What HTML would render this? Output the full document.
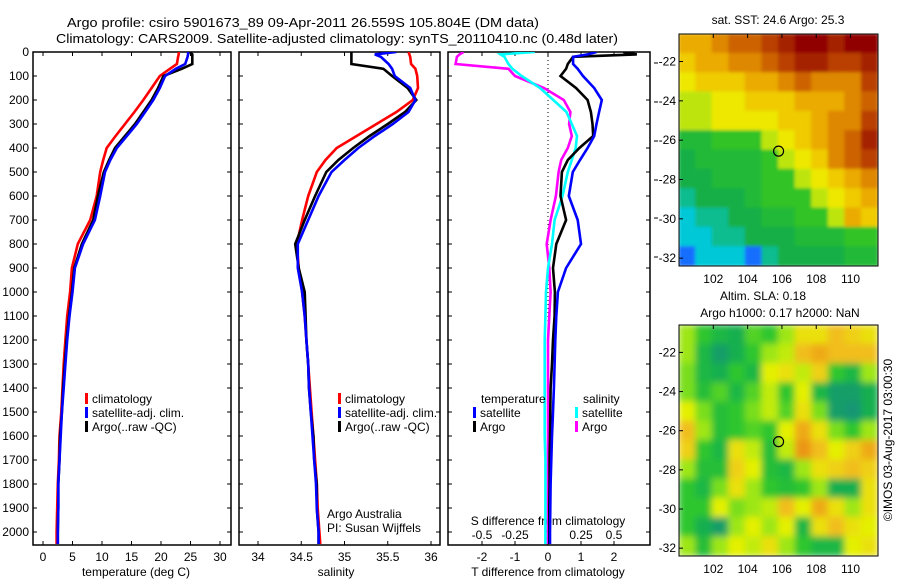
<!DOCTYPE html>
<html><head><meta charset="utf-8">
<style>
html,body{margin:0;padding:0;background:#fff;}
svg{display:block;font-family:"Liberation Sans",Arial,sans-serif;}
text{font-size:12px;fill:#000;}
</style></head>
<body>
<svg id="fig" width="900" height="580" viewBox="0 0 900 580" xmlns="http://www.w3.org/2000/svg">
<text x="67" y="27" textLength="472" lengthAdjust="spacingAndGlyphs" style="font-size:13px">Argo profile: csiro 5901673_89 09-Apr-2011 26.559S 105.804E (DM data)</text>
<text x="56" y="43" textLength="562" lengthAdjust="spacingAndGlyphs" style="font-size:13px">Climatology: CARS2009. Satellite-adjusted climatology: synTS_20110410.nc (0.48d later)</text>
<g id="g"></g>
</svg>
<script>
const depths=[0,10,20,50,70,100,150,200,250,300,350,400,450,500,600,700,800,900,1000,1100,1200,1300,1400,1500,1600,1700,1800,1900,2000,2050];
const tempClim=[23.0,23.0,22.9,22.7,21.5,19.8,18.4,17.0,15.5,13.9,12.3,10.8,10.2,9.7,9.1,8.0,5.9,4.9,4.6,4.1,3.8,3.5,3.3,3.1,2.8,2.7,2.5,2.4,2.3,2.3];
const tempSat=[24.6,24.6,24.5,24.1,22.5,20.7,19.8,18.7,17.3,15.9,14.2,12.5,11.4,10.5,9.7,8.8,6.8,5.4,5.0,4.5,4.1,3.8,3.5,3.2,3.0,2.8,2.6,2.6,2.5,2.5];
const tempArgo=[24.9,25.3,25.3,25.3,23.5,20.4,19.5,18.4,17.0,15.6,13.9,12.2,11.2,10.3,9.3,8.5,6.6,5.3,4.9,4.4,4.0,3.7,3.4,3.2,2.9,2.8,2.6,2.6,2.5,2.5];
const salClim=[35.74,35.75,35.76,35.77,35.82,35.84,35.85,35.79,35.60,35.37,35.14,34.91,34.78,34.68,34.58,34.51,34.45,34.47,34.51,34.54,34.56,34.58,34.60,34.62,34.64,34.66,34.68,34.69,34.71,34.72];
const salSat=[35.60,35.35,35.42,35.51,35.55,35.58,35.76,35.82,35.74,35.56,35.35,35.16,35.00,34.85,34.70,34.58,34.46,34.46,34.51,34.54,34.56,34.58,34.59,34.61,34.63,34.65,34.67,34.68,34.70,34.70];
const salArgo=[35.08,35.08,35.08,35.08,35.45,35.55,35.73,35.83,35.70,35.50,35.29,35.10,34.93,34.79,34.66,34.54,34.43,34.47,34.54,34.55,34.56,34.58,34.59,34.61,34.64,34.65,34.68,34.68,34.70,34.70];
const tDiffSat=[1.47,1.2,0.76,0.76,0.9,1.06,1.4,1.63,1.55,1.47,1.4,1.2,0.97,0.75,0.63,0.9,1.0,0.55,0.3,0.25,0.22,0.2,0.18,0.15,0.12,0.1,0.08,0.07,0.06,0.06];
const tDiffArgo=[2.28,2.69,0.76,0.6,0.55,0.38,0.85,1.2,1.3,1.35,1.37,0.95,0.6,0.42,0.38,0.55,0.25,0.15,0.21,0.2,0.15,0.12,0.08,0.07,0.06,0.05,0.05,0.04,0.04,0.04];
const sDiffSat=[-0.1,-0.36,-0.33,-0.3,-0.27,-0.2,-0.06,0.04,0.14,0.18,0.22,0.21,0.18,0.15,0.11,0.05,0.03,0.0,-0.015,-0.02,-0.025,-0.025,-0.025,-0.025,-0.025,-0.02,-0.02,-0.02,-0.02,-0.02];
const sDiffArgo=[-0.64,-0.67,-0.69,-0.70,-0.3,-0.25,-0.03,0.12,0.17,0.16,0.18,0.15,0.10,0.08,0.06,0.02,-0.01,0.01,0.02,0.01,0,0,0,0,0,0,0,0,0,0];
const depthTicks=[0,100,200,300,400,500,600,700,800,900,1000,1100,1200,1300,1400,1500,1600,1700,1800,1900,2000];
const tempTicks=[0,5,10,15,20,25,30];
const salTicks=[34,34.5,35,35.5,36];
const tdTicks=[-2,-1,0,1,2];
const sdTickLabels=["-0.5","-0.25","0","0.25","0.5"];
const sdTicks=[-0.5,-0.25,0,0.25,0.5];
const sstGrid=[
[24.5,24.5,25,25.5,25.5,26,26.5,27,27,26.5,27,27],
[24,24.5,24.5,25,25,25.5,26,26.5,26.5,26,26,26.5],
[23.5,24,24,24,24.5,24.5,25,25.5,25,25,25,26],
[23,23,23.5,23.5,24,24,24,24.5,24.5,24.5,25,25.5],
[23,23,23.5,23.5,23.5,23.5,24,24,24.5,25,25,26],
[21.5,21.5,22,22,22,23,23.5,24,24.5,25,25.5,26.5],
[21,21.5,21.5,21.5,21.5,22,23,23.5,24,25,25.5,26],
[21,21,21.5,21.5,21.5,22,22,23,23.5,24,24.5,25],
[20.5,21,21,21,21.5,22,22,22,23,23.5,24,24.5],
[20,20.5,20.5,21,21,21.5,21.5,22,22,23,24.5,24],
[20,20,20.5,20.5,21,21,21,21.5,21.5,21.5,22,22],
[19.5,20,20,20,19.5,20.5,21,21,21,21,21.5,21.5]];
const slaGrid=[
[0.3,0,-0.2,-0.3,0.1,0,0.3,0.6,0.6,0.8,0.7,0.6],
[0.3,-0.2,-0.5,-0.3,0,0.3,0.4,0.8,0.9,0.8,0.8,0.8],
[0.2,-0.2,-0.3,0,-0.2,0.5,0.6,0.4,0.7,0,-0.2,0.3],
[0.2,-0.1,0.1,-0.2,0.1,0.4,0,0.5,-0.2,-0.5,-0.5,-0.3],
[0.5,0.2,-0.1,0,0.2,0.4,0.1,0.6,0.2,-0.5,-0.6,-0.3],
[0.8,0.3,-0.1,0,0.1,0,0.5,0.9,0.6,0.2,0,0.3],
[0.7,0,-0.2,0.6,0.4,-0.1,0.4,1.0,0.8,0.5,0.7,0.9],
[0.3,-0.1,-0.1,0.7,0.5,-0.1,-0.2,0.3,0.6,0.7,0.8,0.7],
[0,-0.2,0.2,0.6,0.3,0,-0.1,0,0.3,-0.3,-0.3,0.6],
[0,0,0.5,0.2,0.3,0.4,0.8,0.5,0.9,0.6,0.3,0.6],
[0,-0.3,-0.5,0.3,0.5,0.3,0.5,-0.2,0.6,0.8,0.6,0.5],
[0.3,-0.1,0.3,0.5,0.4,0.6,0.3,0,-0.2,-0.2,0.5,0.6]];
const mapLonTicks=[102,104,106,108,110];
const mapLatTicks=[-22,-24,-26,-28,-30,-32];
const argoLon=105.804, argoLat=-26.559;

const NS="http://www.w3.org/2000/svg";
const G=document.getElementById('g');
function el(tag,attrs,parent){const e=document.createElementNS(NS,tag);for(const k in attrs)e.setAttribute(k,attrs[k]);(parent||G).appendChild(e);return e;}
const TOP=52, BOT=545;
const yD=d=>TOP+d*0.24;
const xT=v=>43+v*5.9;
const xS=v=>258+(v-34)*86.5;
const xTD=v=>548+v*33;
const xSD=v=>548+v*132;
const panels=[{x0:33,x1:231,name:'temperature-panel'},{x0:239,x1:440,name:'salinity-panel'},{x0:448,x1:650,name:'difference-panel'}];

panels.forEach((p,i)=>{
  const r=el('rect',{x:p.x0,y:TOP,width:p.x1-p.x0,height:BOT-TOP,fill:'none',stroke:'#000','stroke-width':1.5});
  
  
  depthTicks.forEach(d=>{
    const y=yD(d);
    const t1=el('line',{x1:p.x0,x2:p.x0+4,y1:y,y2:y,stroke:'#000'});
    
    
    const t2=el('line',{x1:p.x1-4,x2:p.x1,y1:y,y2:y,stroke:'#000'});
    
    
  });
});
depthTicks.forEach(d=>{
  const t=el('text',{x:29,y:yD(d)+4,'text-anchor':'end'});
  t.textContent=d;
  
  
});
function xTicks(ticks,fx,p,labels,ly,top){
  ticks.forEach((v,i)=>{
    const x=fx(v);
    const a=el('line',{x1:x,x2:x,y1:BOT-4,y2:BOT,stroke:'#000'});
    
    
    if(top){const b=el('line',{x1:x,x2:x,y1:TOP,y2:TOP+4,stroke:'#000'});
    
    }
    const t=el('text',{x:x,y:ly,'text-anchor':'middle'});
    t.textContent=labels?labels[i]:v;
    
    
  });
}
xTicks(tempTicks,xT,panels[0],null,561,true);
xTicks(salTicks,xS,panels[1],null,561,true);
xTicks(tdTicks,xTD,panels[2],null,561,false);
sdTicks.forEach((v,i)=>{
  const x=xSD(v);
  const b=el('line',{x1:x,x2:x,y1:TOP,y2:TOP+4,stroke:'#000'});
  
  
  const t=el('text',{x:x,y:539,'text-anchor':'middle'});
  t.textContent=sdTickLabels[i];
  
  
});
[63,102,141,180,218,257].forEach(y=>{
  const t=el('line',{x1:654,x2:658,y1:y,y2:y,stroke:'#000'});
  
  
});
function label(txt,x,y,name,anchor){const t=el('text',{x:x,y:y,'text-anchor':anchor||'start'});t.textContent=txt;return t;}
label('temperature (deg C)',136,576,'x-axis-title-temperature','middle');
label('salinity',336,576,'x-axis-title-salinity','middle');
label('T difference from climatology',548,576,'x-axis-title-t-diff','middle');
label('S difference from climatology',548,525,'s-diff-axis-title','middle');
label('Argo Australia',327,518,'credit-argo-australia');
label('PI: Susan Wijffels',327,532,'credit-pi');

const zl=el('line',{x1:548,x2:548,y1:TOP,y2:BOT,stroke:'#000','stroke-dasharray':'1,3'});



function series(vals,fx,color,name,clip){
  let d='';
  vals.forEach((v,i)=>{d+=(i?'L':'M')+fx(v).toFixed(1)+' '+yD(depths[i]).toFixed(1);});
  const p=el('path',{d:d,fill:'none',stroke:color,'stroke-width':2.6,'stroke-linejoin':'miter','clip-path':'url(#'+clip+')'});
  
  
}
const defs=el('defs',{});
panels.forEach((p,i)=>{const c=el('clipPath',{id:'c'+i},defs);el('rect',{x:p.x0,y:TOP,width:p.x1-p.x0,height:BOT-TOP},c);});
series(tempClim,xT,'#f00','temp-climatology-line','c0');
series(tempArgo,xT,'#000','temp-argo-line','c0');
series(tempSat,xT,'#00f','temp-satellite-line','c0');
series(salClim,xS,'#f00','sal-climatology-line','c1');
series(salArgo,xS,'#000','sal-argo-line','c1');
series(salSat,xS,'#00f','sal-satellite-line','c1');
series(sDiffArgo,xSD,'#f0f','s-diff-argo-line','c2');
series(sDiffSat,xSD,'#0ff','s-diff-satellite-line','c2');
series(tDiffArgo,xTD,'#000','t-diff-argo-line','c2');
series(tDiffSat,xTD,'#00f','t-diff-satellite-line','c2');

function legendEntry(x,y,color,txt,name){
  const r=el('rect',{x:x,y:y-10,width:3,height:11,fill:color});
  
  
  label(txt,x+7,y,name);
}
[[85,'climatology','#f00'],[85,'satellite-adj. clim.','#00f'],[85,'Argo(..raw -QC)','#000']].forEach((e,i)=>legendEntry(e[0],403+i*14,e[2],e[1],'legend-entry-temp'));
[[338,'climatology','#f00'],[338,'satellite-adj. clim.','#00f'],[338,'Argo(..raw -QC)','#000']].forEach((e,i)=>legendEntry(e[0],403+i*14,e[2],e[1],'legend-entry-sal'));
label('temperature',481,403,'legend-header-temperature');
label('salinity',583,403,'legend-header-salinity');
legendEntry(473,417,'#00f','satellite','legend-entry-t-satellite');
legendEntry(473,431,'#000','Argo','legend-entry-t-argo');
legendEntry(575,417,'#0ff','satellite','legend-entry-s-satellite');
legendEntry(575,431,'#f0f','Argo','legend-entry-s-argo');

function lerp(stops,v){
  if(v<=stops[0][0])return stops[0][1];
  for(let i=1;i<stops.length;i++){if(v<=stops[i][0]){const a=stops[i-1],b=stops[i];const t=(v-a[0])/(b[0]-a[0]);return a[1].map((c,k)=>Math.round(c+(b[1][k]-c)*t));}}
  return stops[stops.length-1][1];
}
const sstStops=[[19.5,[20,110,255]],[20,[0,200,215]],[21,[20,175,70]],[22,[50,195,40]],[22.8,[170,228,20]],[23.5,[238,232,0]],[24.3,[240,185,0]],[25,[222,135,0]],[26,[185,65,0]],[27,[145,0,0]]];
const slaStops=[[-0.6,[20,150,115]],[-0.3,[20,175,80]],[0,[45,198,45]],[0.25,[140,228,25]],[0.5,[228,240,0]],[0.75,[242,200,30]],[1.0,[235,150,20]]];
function drawMap(grid,stops,x0,y0,w,h,name,blur){
  const rows=grid.length, cols=grid[0].length, cw=w/cols, ch=h/rows;
  const c=el('clipPath',{id:'clip'+name},defs);el('rect',{x:x0,y:y0,width:w,height:h},c);
  const outer=el('g',{'clip-path':'url(#clip'+name+')'});
  const grp=el('g',{filter:'url(#'+blur+')'},outer);
  grid.forEach((row,r)=>row.forEach((v,ci)=>{
    const col=lerp(stops,v);
    const cell=el('rect',{x:(x0+ci*cw-0.5).toFixed(1),y:(y0+r*ch-0.5).toFixed(1),width:(cw+1).toFixed(1),height:(ch+1).toFixed(1),fill:'rgb('+col.join(',')+')'},grp);
    
    
  }));
  const fr=el('rect',{x:x0,y:y0,width:w,height:h,fill:'none',stroke:'#000'});
  
  
  const lonX=lon=>x0+(lon-100)/(11.6)*w;
  const latY=lat=>y0+(-20.6-lat)/11.8*h;
  mapLonTicks.forEach(l=>{
    const t=el('line',{x1:lonX(l),x2:lonX(l),y1:y0,y2:y0+4,stroke:'#000'});
    
    
    label(l,lonX(l),y0+h+17,'lon-tick-label','middle');
  });
  mapLatTicks.forEach(l=>{
    const t=el('line',{x1:x0,x2:x0+4,y1:latY(l),y2:latY(l),stroke:'#000'});
    
    
    label(l,x0-3,latY(l)+4,'lat-tick-label','end');
  });
  const m=el('ellipse',{cx:lonX(argoLon),cy:latY(argoLat),rx:5,ry:5,fill:'none',stroke:'#000','stroke-width':1.2});
  
  
}
const f=el('filter',{id:'bl',x:'-5%',y:'-5%',width:'110%',height:'110%'},defs);
el('feGaussianBlur',{stdDeviation:3.5},f);
const f2=el('filter',{id:'bl2',x:'-5%',y:'-5%',width:'110%',height:'110%'},defs);
el('feGaussianBlur',{stdDeviation:1.5},f2);
drawMap(sstGrid,sstStops,679,34,199,232,'sst-map','bl2');
drawMap(slaGrid,slaStops,679,325,199,231,'sla-map','bl');
label('sat. SST: 24.6 Argo: 25.3',778,24,'sst-map-title','middle');
label('Altim. SLA: 0.18',763,300,'sla-map-title-1','middle');
label('Argo h1000: 0.17 h2000: NaN',780,317,'sla-map-title-2','middle');
const im=el('text',{x:0,y:0,transform:'translate(892,440) rotate(-90)','text-anchor':'middle'});
im.textContent='©IMOS 03-Aug-2017 03:00:30';


</script>
</body></html>
